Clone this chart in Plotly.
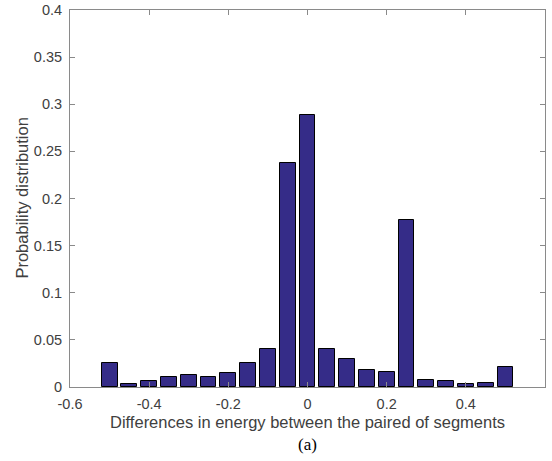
import plotly.graph_objects as go

# Histogram bins (centres) and probability per bin
bin_centers = [-0.5, -0.45, -0.4, -0.35, -0.3, -0.25, -0.2, -0.15, -0.1, -0.05,
               0.0, 0.05, 0.1, 0.15, 0.2, 0.25, 0.3, 0.35, 0.4, 0.45, 0.5]
probabilities = [0.026, 0.003, 0.0067, 0.011, 0.0124, 0.011, 0.0149, 0.026, 0.040, 0.238,
                 0.289, 0.040, 0.0297, 0.018, 0.016, 0.177, 0.0074, 0.0064, 0.003, 0.0046, 0.0215]

x_ticks = [-0.6, -0.4, -0.2, 0, 0.2, 0.4]
x_tick_labels = ["-0.6", "-0.4", "-0.2", "0", "0.2", "0.4"]
y_ticks = [0, 0.05, 0.1, 0.15, 0.2, 0.25, 0.3, 0.35, 0.4]
y_tick_labels = ["0", "0.05", "0.1", "0.15", "0.2", "0.25", "0.3", "0.35", "0.4"]

x_title = "Differences in energy between the paired of segments"
y_title = "Probability distribution"
panel_label = "(a)"

fig = go.Figure()
fig.add_trace(go.Bar(
    x=bin_centers, y=probabilities, width=0.04,
    marker=dict(color="#352C88", line=dict(color="#000000", width=1)),
))

axis_color = "#8a8a8a"
text_color = "#404040"
sans = "Liberation Sans, Arial, sans-serif"
tick_font = dict(family=sans, size=14.5, color=text_color)
title_font = dict(family=sans, size=16.5, color=text_color)

fig.update_layout(
    width=552, height=461,
    margin=dict(l=70, r=7, t=10, b=74),
    paper_bgcolor="white", plot_bgcolor="white",
    showlegend=False, bargap=0,
    xaxis=dict(
        range=[-0.6, 0.6], tickvals=x_ticks, ticktext=x_tick_labels,
        ticks="inside", ticklen=5, tickcolor=axis_color,
        showline=True, linecolor=axis_color, linewidth=1, mirror="ticks",
        showgrid=False, zeroline=False, automargin=False,
        tickfont=tick_font, ticklabelstandoff=4,
    ),
    yaxis=dict(
        range=[0, 0.4], tickvals=y_ticks, ticktext=y_tick_labels,
        ticks="inside", ticklen=5, tickcolor=axis_color,
        showline=True, linecolor=axis_color, linewidth=1, mirror="ticks",
        showgrid=False, zeroline=False, automargin=False,
        tickfont=tick_font, ticklabelstandoff=4,
    ),
    annotations=[
        dict(text=x_title, xref="paper", yref="paper", x=0.5, y=-0.094,
             xanchor="center", yanchor="middle", showarrow=False, font=title_font),
        dict(text=y_title, xref="paper", yref="paper", x=-0.103, y=0.5,
             xanchor="center", yanchor="middle", showarrow=False, textangle=-90,
             font=title_font),
        dict(text=panel_label, xref="paper", yref="paper", x=0.5, y=-0.152,
             xanchor="center", yanchor="middle", showarrow=False,
             font=dict(family="Liberation Serif, Times New Roman, serif", size=17,
                       color="#000000")),
    ],
)

fig.write_html("out.html")
